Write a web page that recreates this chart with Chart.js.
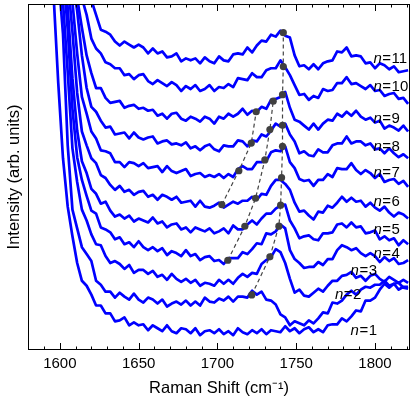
<!DOCTYPE html>
<html><head><meta charset="utf-8">
<script src="https://cdn.jsdelivr.net/npm/chart.js@4.4.1/dist/chart.umd.min.js"></script>
<style>html,body{margin:0;padding:0;background:#fff;}#wrap{width:415px;height:405px;}</style>
</head><body><div id="wrap"><canvas id="c" width="415" height="405"></canvas></div>
<script>
// Raman shift grid (cm^-1)
const shift = [1581,1584,1587,1590,1593,1596,1599,1602,1605,1608,1611,1614,1617,1620,1623,1626,1629,1632,1635,1638,1641,1644,1647,1650,1653,1656,1659,1662,1665,1668,1671,1674,1677,1680,1683,1686,1689,1692,1695,1698,1701,1704,1707,1710,1713,1716,1719,1722,1725,1728,1731,1734,1737,1740,1743,1746,1749,1752,1755,1758,1761,1764,1767,1770,1773,1776,1779,1782,1785,1788,1791,1794,1797,1800,1803,1806,1809,1812,1815,1818,1821];

// Offset intensities for each spectrum n=1..11 (arb. units)
const n1 = [660,600,540,480,420,360,270,194,145,115,88,70,65,56,45,45,37,37,29,30,33,25,28,25,26,20,25,22,19,25,19,17,22,21,17,22,15,19,20,17,21,16,19,15,22,18,16,20,17,21,16,20,19,18,24,19,22,17,21,23,18,21,18,25,26,26,32,29,34,40,39,50,50,53,61,67,63,67,68,63,62];
const n2 = [730,670,610,550,490,435,380,320,207,142,123,104,97,90,70,66,59,59,53,58,54,51,57,51,48,53,51,47,51,44,47,49,46,50,45,49,45,53,49,48,52,50,54,49,54,54,53,60,56,59,51,50,46,36,33,25,29,27,25,30,27,32,38,37,48,47,50,56,60,56,61,64,63,66,66,70,65,67,61,64,64];
const n3 = [750,690,630,570,510,455,400,352,281,204,170,142,131,117,107,106,95,88,90,87,82,86,78,81,81,77,80,74,76,71,77,72,69,72,68,71,65,68,67,65,71,67,71,67,73,77,74,78,77,87,91,94,102,99,88,72,58,61,55,54,58,62,59,65,70,70,75,76,79,73,75,70,75,77,72,69,74,71,68,71,68];
const n4 = [775,715,655,595,535,480,430,385,324,244,195,172,156,141,138,124,122,119,112,114,107,109,104,110,104,101,104,100,103,96,100,98,95,101,95,97,91,94,95,90,91,87,93,93,93,99,97,102,108,107,118,117,120,127,123,101,92,88,83,84,84,89,86,92,92,101,106,104,101,103,98,95,98,95,89,94,90,93,87,88,91];
const n5 = [785,725,665,605,545,490,440,395,346,275,222,191,179,163,158,148,150,141,135,137,133,136,130,133,131,129,134,128,130,124,127,128,122,124,119,124,122,120,123,118,120,123,118,126,122,122,127,131,127,133,138,138,143,146,147,131,123,113,115,116,112,111,118,118,119,127,128,124,129,124,125,118,119,121,112,115,111,113,106,111,107];
const n6 = [805,745,685,625,565,510,460,415,375,322,260,221,207,194,189,177,174,167,162,166,160,162,157,160,161,155,157,152,157,155,152,155,149,150,151,145,151,145,144,146,149,144,147,150,148,151,151,155,152,158,157,166,172,172,168,162,149,140,141,136,132,140,139,146,144,149,155,150,154,150,151,145,149,144,141,145,139,135,139,137,133];
const n7 = [820,760,700,640,580,525,475,430,390,352,300,256,239,221,214,202,201,199,190,190,185,190,189,186,189,184,185,186,180,186,181,179,181,183,176,178,179,175,177,175,178,174,178,175,183,186,183,183,190,190,191,200,202,201,206,190,184,173,171,172,166,172,172,178,175,184,183,183,189,182,178,182,179,174,178,170,172,173,168,171,165];
const n8 = [840,780,720,660,600,545,495,450,410,375,343,298,265,246,241,232,225,226,218,219,220,214,220,215,213,215,216,209,211,212,208,209,207,210,204,206,202,206,208,203,201,207,206,206,212,211,206,212,211,218,216,222,229,226,229,218,211,199,201,197,196,203,200,200,207,209,209,216,209,211,211,207,209,203,204,199,204,199,195,198,194];
const n9 = [850,790,730,670,610,555,505,460,420,385,356,326,298,280,265,265,255,250,251,252,245,247,248,244,245,242,243,237,239,234,239,240,234,232,236,234,231,236,234,229,236,234,239,236,239,244,238,242,241,246,244,253,254,256,261,245,233,231,227,223,229,223,229,233,232,239,236,241,237,242,236,233,235,230,232,224,227,225,222,227,221];
const n10 = [910,850,790,730,670,610,555,505,460,420,385,356,339,315,305,300,291,289,285,285,278,279,274,278,279,272,269,273,270,267,271,268,262,267,264,268,262,264,268,262,266,265,269,266,275,274,273,280,276,276,283,285,285,293,286,278,268,258,259,253,257,255,264,262,263,270,270,276,269,270,267,264,268,262,263,257,259,260,254,255,249];
const n11 = [950,880,820,760,700,650,600,550,505,465,430,400,375,354,339,324,322,319,312,308,312,309,306,309,306,300,305,300,302,296,297,300,292,295,293,295,290,296,292,290,297,293,292,299,300,299,306,301,308,313,312,319,317,323,318,316,298,287,288,284,289,284,290,292,293,302,301,306,297,298,297,290,291,285,290,288,284,287,281,282,283];
const spectra = [n1,n2,n3,n4,n5,n6,n7,n8,n9,n10,n11];

// Peak positions marked by dots (three series, joined by dashed guides)
const rightX = [1721.8,1733.3,1739.0,1740.1,1740.7,1741.3,1741.3,1741.3,1741.8,1741.8];
const rightY = [55.7,94.3,125.3,146.5,174.3,206,227.3,258.3,286.7,321];
const midX = [1706.6,1717.4,1724.2,1730.1,1733.3,1735.4];
const midY = [90.8,125.2,153.5,192.3,223,251.7];
const leftX = [1702.8,1713.6,1721.5,1724.6];
const leftY = [147,181.3,209.3,241];

// Curve labels (n value, anchor in data coordinates)
const labelN = ['1','2','3','4','5','6','7','8','9','10','11'];
const labelX = [1784.5,1774.6,1784.5,1799,1799,1799,1799,1799,1799,1799,1799];
const labelY = [15,51.7,76,93.3,117.3,145.7,175,201,230,261.7,290];

// Axis ticks
const majorTicks = [1600,1650,1700,1750,1800];
const minorTicks = [1590,1600,1610,1620,1630,1640,1650,1660,1670,1680,1690,1700,1710,1720,1730,1740,1750,1760,1770,1780,1790,1800,1810,1820];

const FONT = 'Liberation Sans';
const datasets = [];
spectra.forEach((ys, i) => {
  datasets.push({
    type: 'line', label: 'n=' + (i + 1),
    data: shift.map((x, j) => ({x: x, y: ys[j]})),
    borderColor: '#0000ff', borderWidth: 2.7, pointRadius: 0, fill: false, tension: 0,
    borderJoinStyle: 'round', order: 3
  });
});
[[leftX, leftY], [midX, midY], [rightX, rightY]].forEach(([xs, ys]) => {
  const pts = xs.map((x, j) => ({x: x, y: ys[j]}));
  datasets.push({type: 'line', data: pts, borderColor: '#444444', borderWidth: 1.2,
    borderDash: [4, 3], pointRadius: 0, fill: false, order: 2});
  datasets.push({type: 'line', data: pts, showLine: false, pointRadius: 3.6,
    pointBackgroundColor: '#404040', pointBorderWidth: 0, order: 1});
});

const framePlugin = {
  id: 'frame',
  afterDatasetsDraw(chart) {
    const {ctx, chartArea: a, scales: {x, y}} = chart;
    ctx.save();
    ctx.strokeStyle = '#000'; ctx.lineWidth = 1;
    ctx.strokeRect(a.left + 0.5, a.top + 0.5, a.right - a.left - 1, a.bottom - a.top - 1);
    minorTicks.forEach(v => {
      const px = Math.round(x.getPixelForValue(v)) + 0.5;
      const len = majorTicks.includes(v) ? 7 : 3.5;
      ctx.beginPath();
      ctx.moveTo(px, a.bottom); ctx.lineTo(px, a.bottom - len);
      ctx.moveTo(px, a.top); ctx.lineTo(px, a.top + len);
      ctx.stroke();
    });
    ctx.fillStyle = '#000';
    ctx.textBaseline = 'alphabetic';
    labelN.forEach((t, i) => {
      let px = x.getPixelForValue(labelX[i]);
      const py = y.getPixelForValue(labelY[i]);
      ctx.font = 'italic 15px "' + FONT + '"';
      ctx.fillText('n', px, py);
      px += ctx.measureText('n').width + 0.5;
      ctx.font = '15px "' + FONT + '"';
      ctx.fillText('=', px, py);
      px += ctx.measureText('=').width + 0.5;
      ctx.fillText(t, px, py);
    });
    ctx.restore();
  }
};

new Chart(document.getElementById('c'), {
  type: 'line',
  data: {datasets: datasets},
  options: {
    responsive: false, animation: false,
    layout: {padding: {top: 0, right: 5, left: 0, bottom: 0}},
    plugins: {legend: {display: false}, tooltip: {enabled: false}},
    scales: {
      x: {
        type: 'linear', min: 1579.8, max: 1822.2,
        afterBuildTicks: s => { s.ticks = majorTicks.map(v => ({value: v})); },
        afterFit: s => { s.height = 55; },
        grid: {display: false, drawTicks: false}, border: {display: false},
        ticks: {color: '#000', font: {family: FONT, size: 15}, padding: 5, maxRotation: 0, autoSkip: false,
          callback: v => String(v)},
        title: {display: true, text: 'Raman Shift (cm⁻¹)', color: '#000',
          font: {family: FONT, size: 16.5}, padding: {top: 0, bottom: 7}}
      },
      y: {
        type: 'linear', min: 0, max: 350,
        afterFit: s => { s.width = 28; },
        grid: {display: false, drawTicks: false}, border: {display: false},
        ticks: {display: false},
        title: {display: true, text: 'Intensity (arb. units)', color: '#000',
          font: {family: FONT, size: 16.5}, padding: {top: 5, bottom: 0}}
      }
    }
  },
  plugins: [framePlugin]
});
</script>
</body></html>
